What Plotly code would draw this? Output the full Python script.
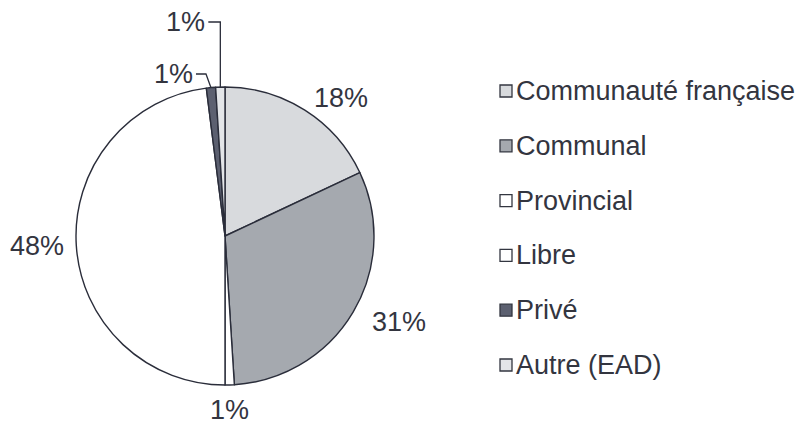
import math
import plotly.graph_objects as go

labels = ["Communauté française", "Communal", "Provincial", "Libre", "Privé", "Autre (EAD)"]
values = [18, 31, 1, 48, 1, 1]
colors = ["#d8dadd", "#a5a9af", "#ffffff", "#ffffff", "#5c6070", "#e3e5e8"]

W, H = 797, 425
cx, cy, r = 225, 236, 149
FONT = "Liberation Sans, Arial, sans-serif"
TXT = "#33353f"
LINE = "#2a2d3a"

# label placement (layout constants): radial distance beyond the rim, or leader-line label height
label_gap = [14, 19, 8, 10, None, None]
leader_label_y = {4: 74, 5: 22}      # pixel rows of the leader-line labels
leader_knee_dx = {4: -5, 5: 0}
leader_len = {4: 10, 5: 12}

fig = go.Figure()
fig.add_trace(go.Pie(
    labels=labels, values=values, sort=False, direction="clockwise", rotation=0,
    marker=dict(colors=colors, line=dict(color=LINE, width=1.4)),
    textinfo="none",
    domain=dict(x=[(cx - r) / W, (cx + r) / W], y=[1 - (cy + r) / H, 1 - (cy - r) / H]),
    showlegend=False, automargin=False, hoverinfo="label+percent",
))

def px(x):
    return x / W

def py(y):
    return 1 - y / H

total = sum(values)
cum = 0
for i, v in enumerate(values):
    mid = 2 * math.pi * (cum + v / 2) / total
    cum += v
    s, c = math.sin(mid), -math.cos(mid)
    text = f"{round(100 * v / total)}%"
    if label_gap[i] is not None:
        d = r + label_gap[i]
        x, y = cx + d * s, cy + d * c
        if abs(s) < 0.3:
            xa, ya = "center", ("top" if c > 0 else "bottom")
        else:
            xa, ya = ("left" if s > 0 else "right"), "middle"
        fig.add_annotation(xref="paper", yref="paper", x=px(x), y=py(y), text=text,
                           showarrow=False, xanchor=xa, yanchor=ya, height=30,
                           font=dict(family=FONT, size=27, color=TXT))
    else:
        ax, ay = cx + r * s, cy + r * c
        ly = leader_label_y[i]
        kx = ax + leader_knee_dx[i]
        ex = kx - leader_len[i]
        fig.add_shape(type="path", xref="paper", yref="paper",
                      path=f"M {px(ax)} {py(ay)} L {px(kx)} {py(ly)} L {px(ex)} {py(ly)}",
                      line=dict(color=LINE, width=1.3))
        fig.add_annotation(xref="paper", yref="paper", x=px(ex - 1), y=py(ly), text=text,
                           showarrow=False, xanchor="right", yanchor="middle", height=30,
                           font=dict(family=FONT, size=27, color=TXT))

# legend
lx, ly0, step, sq = 500, 91, 54.8, 12
for i, (lab, col) in enumerate(zip(labels, colors)):
    y = ly0 + i * step
    fig.add_shape(type="rect", xref="paper", yref="paper",
                  x0=px(lx), x1=px(lx + sq), y0=py(y + sq / 2), y1=py(y - sq / 2),
                  fillcolor=col, line=dict(color="#333640", width=1.3))
    fig.add_annotation(xref="paper", yref="paper", x=px(lx + sq + 2), y=py(y),
                       text=lab, showarrow=False, xanchor="left", yanchor="middle",
                       font=dict(family=FONT, size=27, color=TXT))

fig.update_layout(width=W, height=H, margin=dict(l=0, r=0, t=0, b=0),
                  paper_bgcolor="white", plot_bgcolor="white")
fig.write_html("out.html", config={"displayModeBar": False},
               post_script="document.body.style.margin='0';")
